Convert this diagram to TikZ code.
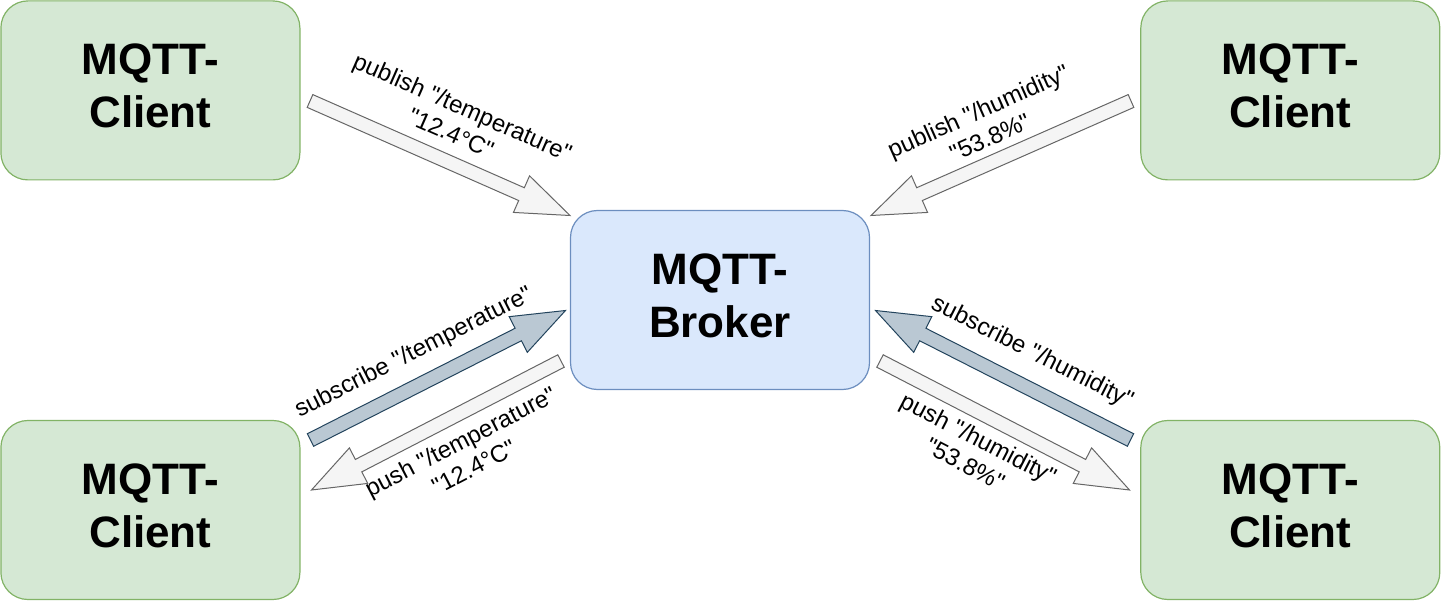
\documentclass[tikz,border=0pt]{standalone}
\usepackage{fontspec}
\setmainfont{Liberation Sans}[Ligatures=TeXOff]
\usetikzlibrary{calc}

\definecolor{clientfill}{HTML}{D5E8D4}
\definecolor{clientline}{HTML}{82B366}
\definecolor{brokerfill}{HTML}{DAE8FC}
\definecolor{brokerline}{HTML}{6C8EBF}
\definecolor{msgfill}{HTML}{F5F5F5}
\definecolor{msgline}{HTML}{666666}
\definecolor{subfill}{HTML}{BAC8D3}
\definecolor{subline}{HTML}{23445D}

% broad block arrow from coordinate #2 to coordinate #3, drawn with style #1
\newcommand\blockarrow[3]{%
  \path ($(#3)!53pt!(#2)$) coordinate (hb);
  \draw[#1] ($(#2)!7pt!90:(#3)$) -- ($(hb)!7pt!90:(#3)$) -- ($(hb)!20pt!90:(#3)$)
    -- (#3) -- ($(hb)!20pt!-90:(#3)$) -- ($(hb)!7pt!-90:(#3)$)
    -- ($(#2)!7pt!-90:(#3)$) -- cycle;
}

\tikzset{
  box/.style={rounded corners=27pt, line width=1.2pt, minimum width=299pt,
    minimum height=179pt, align=center, inner sep=0pt, text depth=9pt,
    font=\bfseries\fontsize{44}{52.8}\selectfont},
  client/.style={box, fill=clientfill, draw=clientline},
  broker/.style={box, fill=brokerfill, draw=brokerline},
  msgarrow/.style={fill=msgfill, draw=msgline, line width=1pt, line join=miter},
  subarrow/.style={fill=subfill, draw=subline, line width=1pt, line join=miter},
  lbl/.style={align=center, inner sep=0pt, font=\fontsize{24}{28.8}\selectfont}
}

\begin{document}
\begin{tikzpicture}[x=1pt, y=-1pt]
  \useasboundingbox (0,0) rectangle (1442,601);

  % clients and broker
  \node[client] (clientTL) at (150.4,90.4) {MQTT-\\Client};
  \node[client] (clientTR) at (1290.3,90.4) {MQTT-\\Client};
  \node[client] (clientBL) at (150.4,510) {MQTT-\\Client};
  \node[client] (clientBR) at (1290.3,510) {MQTT-\\Client};
  \node[broker] (broker) at (720,300) {MQTT-\\Broker};

  % arrow end points
  \coordinate (pubT-s) at (310,101);
  \coordinate (pubT-e) at (570,215.5);
  \coordinate (pubH-s) at (1131,101);
  \coordinate (pubH-e) at (871,215.5);
  \coordinate (subT-s) at (310.5,440);
  \coordinate (subT-e) at (565.5,310.5);
  \coordinate (subH-s) at (1130.5,440);
  \coordinate (subH-e) at (875.5,310.5);
  \coordinate (pushT-s) at (561,361);
  \coordinate (pushT-e) at (311.5,490);
  \coordinate (pushH-s) at (880,361);
  \coordinate (pushH-e) at (1129.5,490);

  % publish messages
  \blockarrow{msgarrow}{pubT-s}{pubT-e}
  \blockarrow{msgarrow}{pubH-s}{pubH-e}
  % subscriptions
  \blockarrow{subarrow}{subT-s}{subT-e}
  \blockarrow{subarrow}{subH-s}{subH-e}
  % pushed messages
  \blockarrow{msgarrow}{pushT-s}{pushT-e}
  \blockarrow{msgarrow}{pushH-s}{pushH-e}

  % labels
  \node[lbl, rotate=-23.7] (pubT-l) at (457,120) {publish "/temperature"\\"12.4°C"};
  \node[lbl, rotate=24] (pubH-l) at (984,124) {publish "/humidity"\\"53.8\%"};
  \node[lbl, rotate=26.8] (subT-l) at (414,353) {subscribe "/temperature"};
  \node[lbl, rotate=-26.8] (subH-l) at (1032,353) {subscribe "/humidity"};
  \node[lbl, rotate=27.4] (pushT-l) at (467,454) {push "/temperature"\\"12.4°C"};
  \node[lbl, rotate=-27.4] (pushH-l) at (972,451) {push "/humidity"\\"53.8\%"};
\end{tikzpicture}
\end{document}
